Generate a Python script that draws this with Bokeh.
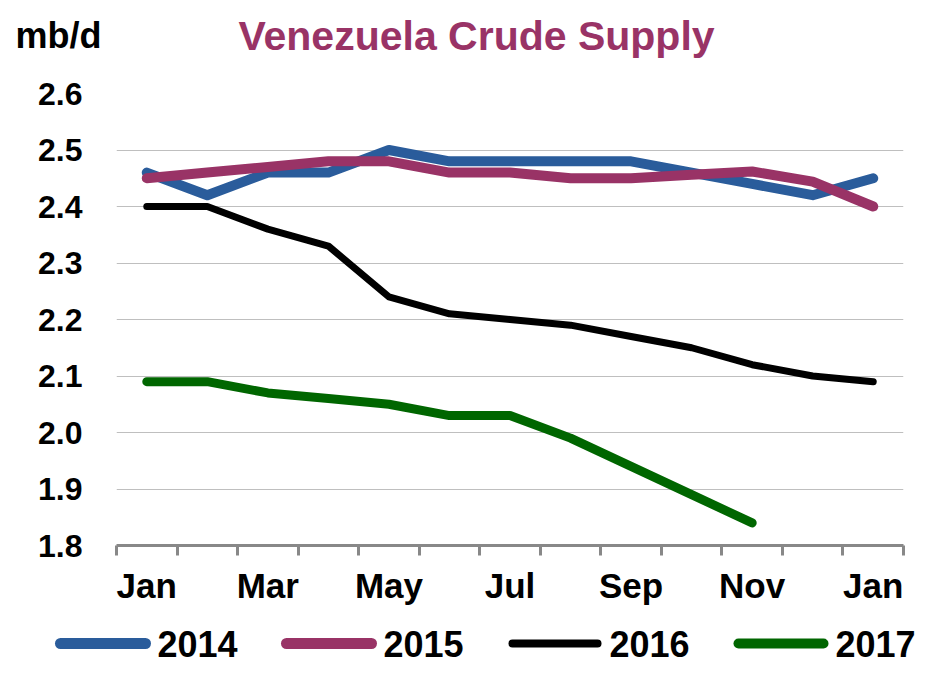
from bokeh.plotting import figure
from bokeh.models import Range1d, FixedTicker
from bokeh.layouts import column
from bokeh.core.properties import value
from bokeh.embed import file_html
from bokeh.resources import INLINE

# ---- data ----
months = ["Jan", "Feb", "Mar", "Apr", "May", "Jun", "Jul", "Aug", "Sep", "Oct", "Nov", "Dec", "Jan"]
x_tick_labels = ["Jan", "Mar", "May", "Jul", "Sep", "Nov", "Jan"]
y_ticks = [1.8, 1.9, 2.0, 2.1, 2.2, 2.3, 2.4, 2.5, 2.6]

series_names = ["2014", "2015", "2016", "2017"]
s2014 = [2.46, 2.42, 2.46, 2.46, 2.50, 2.48, 2.48, 2.48, 2.48, 2.46, 2.44, 2.42, 2.45]
s2015 = [2.45, 2.46, 2.47, 2.48, 2.48, 2.46, 2.46, 2.45, 2.45, 2.456, 2.462, 2.444, 2.40]
s2016 = [2.40, 2.40, 2.36, 2.33, 2.24, 2.21, 2.20, 2.19, 2.17, 2.15, 2.12, 2.10, 2.09]
s2017 = [2.09, 2.09, 2.07, 2.06, 2.05, 2.03, 2.03, 1.99, 1.94, 1.89, 1.84]

title_text = "Venezuela Crude Supply"
unit_text = "mb/d"

colors = ["#2A5C9B", "#993366", "#000000", "#006600"]
widths = [10, 10, 7, 9]

FONT = "Liberation Sans"
W = 922
HEAD_H = 70
MAIN_H = 542
LEG_H = 53


def blank_fig(h, y0, y1):
    f = figure(width=W, height=h, output_backend="svg", toolbar_location=None,
               x_range=Range1d(0, W), y_range=Range1d(y0, y1),
               x_axis_type=None, y_axis_type=None, frame_align=False,
               min_border=0, min_border_left=0, min_border_right=0,
               min_border_top=0, min_border_bottom=0)
    f.outline_line_color = None
    f.xgrid.visible = False
    f.ygrid.visible = False
    f.background_fill_color = "white"
    f.border_fill_color = "white"
    return f


# ---- header ----
head = blank_fig(HEAD_H, HEAD_H, 0)
head.text(x=[15], y=[35], text=[unit_text], text_font=value(FONT), text_font_style="bold",
          text_font_size="36px", text_color="black", text_align="left",
          text_baseline="alphabetic")
head.text(x=[476], y=[35], text=[title_text], text_font=value(FONT), text_font_style="bold",
          text_font_size="41px", text_color="#993366", text_align="center",
          text_baseline="alphabetic")

# ---- main plot ----
p = figure(width=W, height=MAIN_H, output_backend="svg", toolbar_location=None,
           x_range=Range1d(-0.5, len(months) - 0.5), y_range=Range1d(1.8, 2.6),
           frame_align=False,
           min_border_left=116, min_border_right=19, min_border_top=23, min_border_bottom=67)
p.outline_line_color = None
p.background_fill_color = "white"
p.border_fill_color = "white"

for vals, c, w in zip([s2014, s2015, s2016, s2017], colors, widths):
    p.line(list(range(len(vals))), vals, line_color=c, line_width=w,
           line_cap="round", line_join="round")

tick_pos = [2 * i for i in range(len(x_tick_labels))]
p.xaxis.ticker = FixedTicker(ticks=tick_pos,
                             minor_ticks=[i - 0.5 for i in range(len(months) + 1)])
p.xaxis.major_label_overrides = {pos: lab for pos, lab in zip(tick_pos, x_tick_labels)}
p.xaxis.axis_line_color = "#888888"
p.xaxis.axis_line_width = 3
p.xaxis.major_tick_line_color = None
p.xaxis.major_tick_out = 0
p.xaxis.major_tick_in = 0
p.xaxis.minor_tick_line_color = "#888888"
p.xaxis.minor_tick_line_width = 3
p.xaxis.minor_tick_out = 10
p.xaxis.minor_tick_in = 0
p.xaxis.major_label_standoff = 10
p.xaxis.major_label_text_font = FONT
p.xaxis.major_label_text_font_style = "bold"
p.xaxis.major_label_text_font_size = "35px"
p.xaxis.major_label_text_color = "black"

p.yaxis.ticker = FixedTicker(ticks=y_ticks)
p.yaxis.major_label_overrides = {t: "%.1f" % t for t in y_ticks}
p.yaxis.axis_line_color = None
p.yaxis.major_tick_line_color = None
p.yaxis.minor_tick_line_color = None
p.yaxis.major_tick_out = 0
p.yaxis.major_tick_in = 0
p.yaxis.major_label_standoff = 34
p.yaxis.major_label_text_font = FONT
p.yaxis.major_label_text_font_style = "bold"
p.yaxis.major_label_text_font_size = "32px"
p.yaxis.major_label_text_color = "black"

p.xgrid.grid_line_color = None
p.ygrid.ticker = FixedTicker(ticks=y_ticks[1:])
p.ygrid.grid_line_color = "#BFBFBF"
p.ygrid.grid_line_width = 1

# ---- legend ----
leg = blank_fig(LEG_H, 665, 665 - LEG_H)
LEG_Y = 643
for i, (name, c, w) in enumerate(zip(series_names, colors, widths)):
    x0 = 60 + 226 * i
    leg.line([x0, x0 + 85], [LEG_Y, LEG_Y], line_color=c, line_width=w + 1, line_cap="round")
    leg.text(x=[x0 + 97], y=[LEG_Y], text=[name], text_font=value(FONT), text_font_style="bold",
             text_font_size="36px", text_color="black", text_align="left",
             text_baseline="middle")

layout = column(head, p, leg, spacing=0)
open("out.html", "w").write(file_html(layout, INLINE))
